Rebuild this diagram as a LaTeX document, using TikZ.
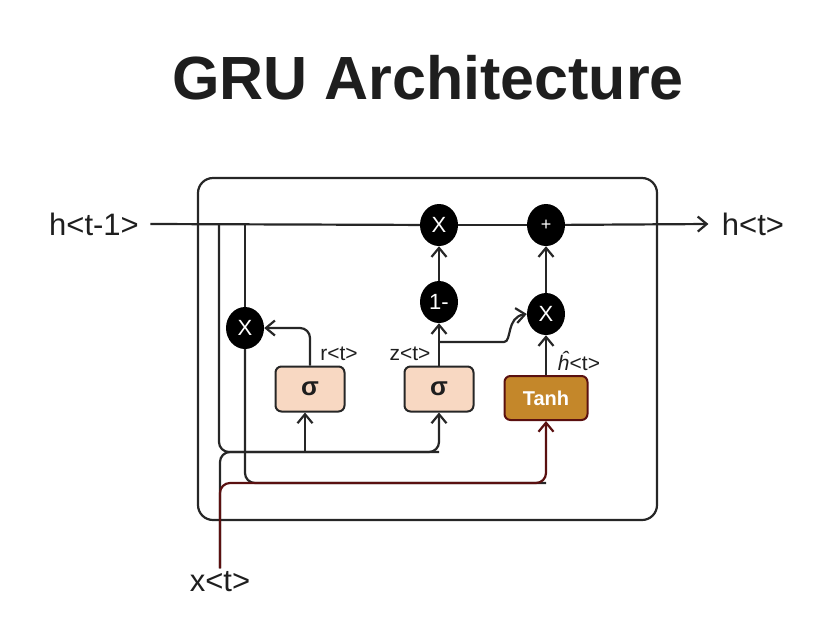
\documentclass[tikz,border=0pt]{standalone}
\usepackage{fontspec}
\setmainfont{Liberation Sans}
\usetikzlibrary{arrows.meta,shapes.geometric}
\definecolor{ink}{HTML}{1E1E1E}
\definecolor{linecol}{HTML}{262626}
\definecolor{peach}{HTML}{F8D8C2}
\definecolor{ochre}{HTML}{C4872A}
\definecolor{maroon}{HTML}{5A1010}
\def\fs#1{\fontsize{#1}{#1}\selectfont}
\tikzset{
	gate/.style={ellipse, fill=black, minimum width=38pt, minimum height=42pt, inner sep=0pt, text=white, font=\fs{22}},
	sigbox/.style={draw=linecol, line width=2pt, rounded corners=6pt, fill=peach, minimum width=69pt, minimum height=45pt, font=\fs{26}\bfseries, text=ink},
	wire/.style={draw=linecol, line width=2.2pt, rounded corners=10pt},
	arr/.style={-{Straight Barb[length=9pt,width=15pt]}},
	lab/.style={text=ink, font=\fs{21}, inner sep=0pt},
}

\begin{document}
\begin{tikzpicture}[x=1pt,y=-1pt]
			%%%%% START %%%%%
			\useasboundingbox (0,0) rectangle (822,622);
			
			\node[text=ink, font=\fs{61}\bfseries] (title) at (428,78) {GRU Architecture};
			
			\draw[line width=2.2pt, color=linecol, rounded corners=15pt] (198,178) rectangle (657,520);
			
			\node[text=ink, font=\fs{31}] (hprev) at (94,224) {h<t-1>};
			\node[text=ink, font=\fs{31}] (hnext) at (753,224) {h<t>};
			\node[text=ink, font=\fs{31}] (xin) at (220,582) {x<t>};
			
			\node[gate] (mulr) at (245,328) {X};
			\node[gate] (mulh) at (439,225) {X};
			\node[gate] (one) at (439,302) {1-};
			\node[gate, font=\fs{18}] (addh) at (546,225) {+};
			\node[gate] (mulz) at (546,314) {X};
			
			\node[sigbox] (rsig) at (310,389) {σ};
			\node[sigbox] (zsig) at (439,389) {σ};
			\node[sigbox, fill=ochre, draw=maroon, minimum width=83pt, minimum height=44pt, text=white, font=\fs{20}\bfseries] (tanh) at (546,398) {Tanh};
			
			\node[lab] (rlab) at (339,354) {r<t>};
			\node[lab] (zlab) at (410,354) {z<t>};
			\node[lab] (hlab) at (579,361) {\textit{ĥ}<t>};
			
			\coordinate (hsplit) at (219,224);
			\coordinate (rsplit) at (245,224);
			\coordinate (gatebus) at (439,452);
			\coordinate (tanhbus) at (546,483);
			\coordinate (zfork) at (439,342);
			\coordinate (zbend) at (494,342);
			
			%% state line
			\draw[wire] ([xshift=8pt]hprev.east) -- (mulh);
			\draw[wire] (mulh) -- (addh);
			\draw[wire, arr] (addh) -- ([xshift=-10pt]hnext.west);
			
			%% inputs to the gates
			\draw[wire, arr] (hsplit) |- (gatebus) -- (zsig.south);
			\draw[wire] (xin.north) |- (gatebus);
			\draw[wire, arr] ([xshift=-5pt]rsig.south |- gatebus) -- ([xshift=-5pt]rsig.south);
			\draw[wire] (rsplit) -- (mulr);
			\draw[wire] (mulr) |- (tanhbus);
			\draw[wire, draw=maroon, arr] (xin.north) |- (tanhbus) -- (tanh.south);
			
			%% gate outputs
			\draw[wire, arr] (rsig.north) |- (mulr.east);
			\draw[wire, arr] (zsig) -- (one);
			\draw[wire, arr] (zfork) -- (zbend) .. controls (512,342) and (506,317) .. (mulz.west);
			\draw[wire, arr] (one) -- (mulh);
			\draw[wire, arr] (mulz) -- (addh);
			\draw[wire, arr] (tanh) -- (mulz);
			
			%%%%% END %%%%%
\end{tikzpicture}
\end{document}
